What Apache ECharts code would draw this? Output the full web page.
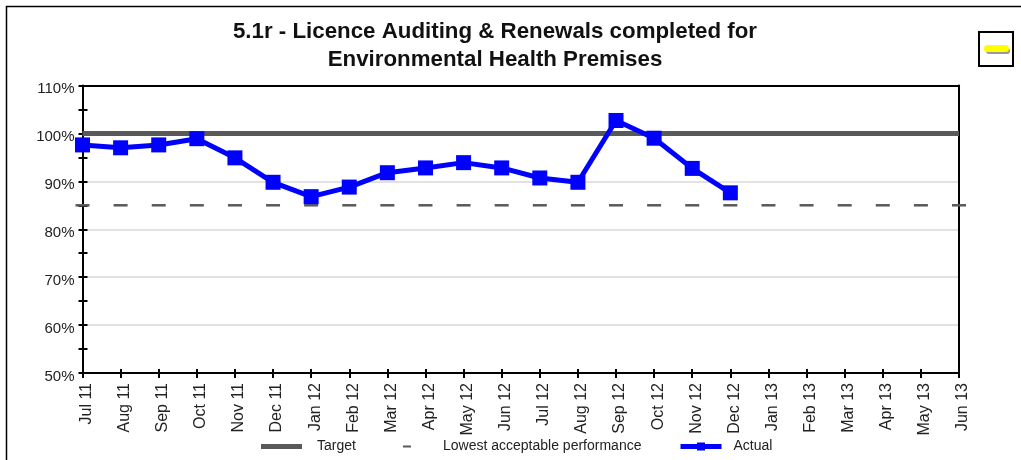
<!DOCTYPE html>
<html>
<head>
<meta charset="utf-8">
<style>html,body{margin:0;padding:0;background:#fff}#c{width:1021px;height:460px}</style>
<script src="https://cdn.jsdelivr.net/npm/echarts@6/dist/echarts.min.js"></script>
</head>
<body>
<div id="c"></div>
<script>
const months = ['Jul 11','Aug 11','Sep 11','Oct 11','Nov 11','Dec 11','Jan 12','Feb 12','Mar 12','Apr 12','May 12','Jun 12','Jul 12','Aug 12','Sep 12','Oct 12','Nov 12','Dec 12','Jan 13','Feb 13','Mar 13','Apr 13','May 13','Jun 13'];
const target = [100,100,100,100,100,100,100,100,100,100,100,100,100,100,100,100,100,100,100,100,100,100,100,100];
const lowest = [85,85,85,85,85,85,85,85,85,85,85,85,85,85,85,85,85,85,85,85,85,85,85,85];
const actual = [97.6,97,97.6,98.9,94.9,89.8,86.8,88.8,91.8,92.8,93.9,92.8,90.7,89.8,102.7,99,92.7,87.6];
const titleText = '5.1r - Licence Auditing & Renewals completed for\nEnvironmental Health Premises';

const font = '"Liberation Sans", Arial, sans-serif';
const chart = echarts.init(document.getElementById('c'), null, {renderer:'canvas'});
const legendBase = {orient:'horizontal', padding:0, itemGap:0,
  textStyle:{fontFamily:font, fontSize:14, color:'#222'}};
const ink = '#595959';
chart.setOption({
  animation:false,
  backgroundColor:'#fff',
  title:{text:titleText, left:490, top:13, textAlign:'center',
    textStyle:{fontFamily:font, fontSize:22.3, fontWeight:'bold', color:'#111', lineHeight:28}},
  grid:{left:82.5, top:85.5, width:876.5, height:287.5},
  legend:[
    Object.assign({}, legendBase, {left:261, top:439.5, itemWidth:41, itemHeight:5,
      textStyle:Object.assign({}, legendBase.textStyle, {padding:[0,0,0,10]}),
      data:[{name:'Target', icon:'rect'}]}),
    Object.assign({}, legendBase, {left:403, top:439.5, itemWidth:8, itemHeight:2,
      textStyle:Object.assign({}, legendBase.textStyle, {padding:[0,0,0,27]}),
      data:[{name:'Lowest acceptable performance', icon:'rect'}]}),
    Object.assign({}, legendBase, {left:678, top:439.5, itemWidth:41, itemHeight:10,
      textStyle:Object.assign({}, legendBase.textStyle, {padding:[0,0,0,7]}),
      lineStyle:{width:5},
      data:['Actual']})
  ],
  xAxis:[
    {type:'category', data:months, boundaryGap:false,
     axisLine:{lineStyle:{color:'#000',width:2}},
     axisTick:{show:true, alignWithLabel:true, interval:0, length:5, lineStyle:{color:'#000',width:2}},
     axisLabel:{interval:0, rotate:90, fontFamily:font, fontSize:16, color:'#222', margin:10, verticalAlign:'top', lineHeight:8},
     splitLine:{show:false}},
    {type:'category', data:months, boundaryGap:false, position:'bottom',
     axisLine:{show:false},
     axisTick:{show:true, inside:true, interval:0, length:4, lineStyle:{color:'#000',width:2}},
     axisLabel:{show:false}, splitLine:{show:false}},
    {type:'category', data:months, boundaryGap:false, position:'top',
     axisLine:{show:true, lineStyle:{color:'#000',width:2}},
     axisTick:{show:false}, axisLabel:{show:false}, splitLine:{show:false}}
  ],
  yAxis:[
    {type:'value', min:50, max:110, interval:10,
     axisLine:{show:true, lineStyle:{color:'#000',width:2}},
     axisTick:{show:true, length:4, lineStyle:{color:'#000',width:2}},
     minorTick:{show:true, splitNumber:2, length:4, lineStyle:{color:'#000',width:2}},
     axisLabel:{formatter:'{value}%', fontFamily:font, fontSize:15, color:'#222', margin:8, verticalAlign:'top', lineHeight:7},
     splitLine:{show:true, lineStyle:{color:'#e2e2e2',width:2}}},
    {type:'value', min:50, max:110, interval:5, position:'left',
     axisLine:{show:false},
     axisTick:{show:true, inside:true, length:5, lineStyle:{color:'#000',width:2}},
     axisLabel:{show:false}, splitLine:{show:false}},
    {type:'value', min:50, max:110, interval:10, position:'right',
     axisLine:{show:true, lineStyle:{color:'#000',width:2}},
     axisTick:{show:false}, axisLabel:{show:false}, splitLine:{show:false}}
  ],
  series:[
    {name:'Target', type:'line', data:target, symbol:'none', clip:false,
     lineStyle:{color:ink,width:5}, itemStyle:{color:ink}, z:3},
    {name:'Lowest acceptable performance', type:'line', data:lowest, clip:false,
     symbol:'rect', symbolSize:[14,2.5], showSymbol:true,
     lineStyle:{width:0,opacity:0}, itemStyle:{color:ink}, z:3},
    {name:'Actual', type:'line', data:actual, clip:false,
     symbol:'rect', symbolSize:15, showSymbol:true,
     lineStyle:{color:'#0000ff',width:5}, itemStyle:{color:'#0000ff'}, z:5}
  ],
  graphic:[
    {type:'polyline', silent:true, shape:{points:[[6.5,460],[6.5,6.5],[1021,6.5]]}, style:{fill:'none',stroke:'#000',lineWidth:1.5}},
    {type:'rect', silent:true, shape:{x:979,y:32,width:34,height:34}, style:{fill:'#fff',stroke:'#000',lineWidth:2}},
    {type:'rect', silent:true, shape:{x:986,y:48,width:24,height:6,r:3}, style:{fill:'#999'}},
    {type:'rect', silent:true, shape:{x:984,y:45,width:25,height:7,r:3.5}, style:{fill:'#ffff00'}}
  ]
});
</script>
</body>
</html>
